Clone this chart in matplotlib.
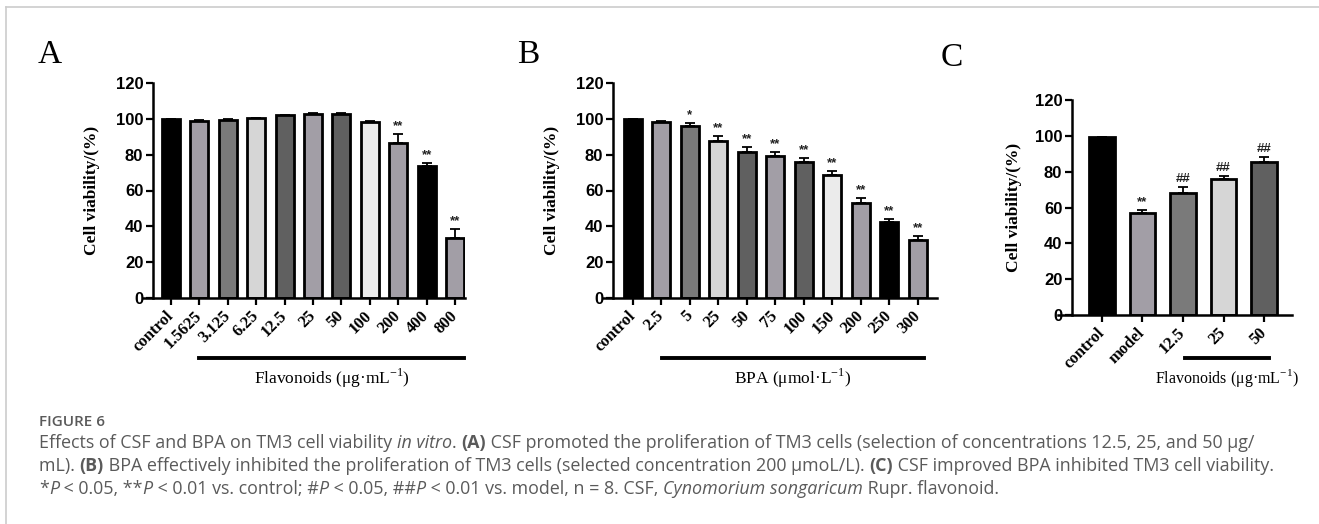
import numpy as np
import matplotlib
matplotlib.use("Agg")
import matplotlib.pyplot as plt
from matplotlib.lines import Line2D
import matplotlib.transforms as mtransforms

# data
a_labels = ["control", "1.5625", "3.125", "6.25", "12.5", "25", "50", "100", "200", "400", "800"]
a_values = [100, 99.0, 99.4, 100.2, 101.9, 102.8, 102.8, 98.5, 86.5, 73.5, 33.6]
a_errors = [0, 0.6, 0.4, 0.5, 0.5, 0.6, 0.6, 0.4, 5.1, 1.8, 4.7]
a_marks = ["", "", "", "", "", "", "", "", "**", "**", "**"]

b_labels = ["control", "2.5", "5", "25", "50", "75", "100", "150", "200", "250", "300"]
b_values = [100, 98.3, 96.1, 87.7, 81.3, 79.4, 76.1, 68.6, 52.9, 42.2, 32.1]
b_errors = [0, 0.6, 1.5, 2.6, 2.8, 1.9, 2.0, 2.1, 2.8, 1.7, 2.5]
b_marks = ["", "", "*", "**", "**", "**", "**", "**", "**", "**", "**"]

c_labels = ["control", "model", "12.5", "25", "50"]
c_values = [99.6, 56.7, 68.1, 76.1, 85.2]
c_errors = [0, 1.8, 3.2, 1.3, 2.8]
c_marks = ["", "**", "##", "##", "##"]

BLACK = "#000000"
PURP = "#a29ea6"
MID = "#7a7a7a"
LIGHT = "#d6d6d6"
DARK = "#606060"
PALE = "#ebebeb"
a_colors = [BLACK, PURP, MID, LIGHT, DARK, PURP, DARK, PALE, PURP, BLACK, PURP]
b_colors = [BLACK, PURP, MID, LIGHT, DARK, PURP, DARK, PALE, PURP, BLACK, PURP]
c_colors = [BLACK, PURP, MID, LIGHT, DARK]

W, H = 1319, 524
SERIF = "Liberation Serif"
SANS = "Liberation Sans"

fig = plt.figure(figsize=(W / 100, H / 100), dpi=100)


def rect(left, right, bottom, top):
    return [left / W, 1 - bottom / H, (right - left) / W, (bottom - top) / H]


def panel(box, labels, values, errors, colors, marks, xlim, width, ylab_x,
          group_start, group_end, group_label, group_size):
    ax = fig.add_axes(rect(*box))
    x = np.arange(len(values))
    ax.bar(x, values, width=width, color=colors, edgecolor="black",
           linewidth=2.0, zorder=2)
    ax.errorbar(x, values, yerr=[np.zeros(len(errors)), errors], fmt="none",
                ecolor="black", elinewidth=1.3, capsize=3.5, capthick=1.3,
                zorder=1)
    for xi, v, e, m in zip(x, values, errors, marks):
        if m:
            ax.annotate(m, (xi, v + e), xytext=(0, 1.5), textcoords="offset points",
                        ha="center", va="bottom", fontsize=9.5,
                        fontweight="bold", family=SANS, color="#222222")
    ax.set_xlim(*xlim)
    ax.set_ylim(0, 120)
    ax.set_yticks([0, 20, 40, 60, 80, 100, 120])
    ax.set_xticks(x)
    ax.set_xticklabels(labels, rotation=45, ha="right", va="center",
                       rotation_mode="anchor", fontsize=12,
                       fontweight="bold", family=SERIF)
    for t in ax.get_yticklabels():
        t.set_fontsize(12)
        t.set_fontweight("bold")
        t.set_family(SANS)
    ax.tick_params(axis="both", length=5, width=1.6, direction="out", pad=2)
    ax.tick_params(axis="x", pad=6)
    for side in ["top", "right"]:
        ax.spines[side].set_visible(False)
    for side in ["left", "bottom"]:
        ax.spines[side].set_linewidth(1.8)
    ax.spines["bottom"].set_bounds(xlim[0] - 0.35, xlim[1])
    ax.set_ylabel("Cell viability/(%)", fontsize=12.5, fontweight="bold",
                  family=SERIF)
    ax.yaxis.set_label_coords(ylab_x, 0.5)

    # group underline and label below the ticks
    trans = mtransforms.blended_transform_factory(ax.transData, fig.transFigure)
    ax.add_line(Line2D([group_start, group_end], [1 - 358 / H] * 2,
                       transform=trans, color="black", linewidth=2.8,
                       clip_on=False))
    ax.text((group_start + group_end) / 2, 1 - 378 / H, group_label,
            transform=trans, ha="center", va="center", fontsize=group_size,
            family=SERIF)
    return ax


panel((153, 465, 298, 83), a_labels, a_values, a_errors, a_colors, a_marks,
      (-0.63, 10.35), 0.63, -0.17, 1.0, 10.3,
      r"Flavonoids (μg·mL$^{\mathregular{-1}}$)", 12.5)
panel((613, 937, 298, 83), b_labels, b_values, b_errors, b_colors, b_marks,
      (-0.70, 10.67), 0.63, -0.164, 1.02, 10.2,
      r"BPA (μmol·L$^{\mathregular{-1}}$)", 12.5)
panel((1072, 1292, 315, 100), c_labels, c_values, c_errors, c_colors, c_marks,
      (-0.74, 4.69), 0.64, -0.227, 2.05, 4.12,
      r"Flavonoids (μg·mL$^{\mathregular{-1}}$)", 11.5)

# panel letters
for letter, px, py in [("A", 50, 55), ("B", 528, 55), ("C", 952, 58)]:
    fig.text(px / W, 1 - py / H, letter, ha="center", va="center",
             fontsize=24, family=SERIF)

# light frame on the left and top
fig.add_artist(Line2D([6 / W, 6 / W], [0, 1 - 7 / H], transform=fig.transFigure,
                      color="#cccccc", linewidth=1.2))
fig.add_artist(Line2D([6 / W, 1], [1 - 7 / H, 1 - 7 / H], transform=fig.transFigure,
                      color="#cccccc", linewidth=1.2))

# caption, drawn segment by segment so styles can change inside a line
renderer = fig.canvas.get_renderer()
CAP = "Open Sans"
GREY = "#5a5a5a"


def caption_line(px, py, segments, size=12.9):
    for text, style, weight in segments:
        t = fig.text(px / W, 1 - py / H, text, ha="left", va="center",
                     fontsize=size, family=CAP, style=style, weight=weight,
                     color=GREY)
        px += t.get_window_extent(renderer).width


caption_line(39, 422, [("FIGURE 6", "normal", "semibold")], size=11)
caption_line(39, 443, [
    ("Effects of CSF and BPA on TM3 cell viability ", "normal", "normal"),
    ("in vitro", "italic", "normal"),
    (". ", "normal", "normal"),
    ("(A)", "normal", "bold"),
    (" CSF promoted the proliferation of TM3 cells (selection of concentrations 12.5, 25, and 50 μg/",
     "normal", "normal"),
])
caption_line(39, 466, [
    ("mL). ", "normal", "normal"),
    ("(B)", "normal", "bold"),
    (" BPA effectively inhibited the proliferation of TM3 cells (selected concentration 200 μmoL/L). ",
     "normal", "normal"),
    ("(C)", "normal", "bold"),
    (" CSF improved BPA inhibited TM3 cell viability.", "normal", "normal"),
])
caption_line(39, 489, [
    ("*", "normal", "normal"),
    ("P", "italic", "normal"),
    (" < 0.05, **", "normal", "normal"),
    ("P", "italic", "normal"),
    (" < 0.01 vs. control; #", "normal", "normal"),
    ("P", "italic", "normal"),
    (" < 0.05, ##", "normal", "normal"),
    ("P", "italic", "normal"),
    (" < 0.01 vs. model, n = 8. CSF, ", "normal", "normal"),
    ("Cynomorium songaricum", "italic", "normal"),
    (" Rupr. flavonoid.", "normal", "normal"),
])

fig.savefig("out.png", dpi=100)
